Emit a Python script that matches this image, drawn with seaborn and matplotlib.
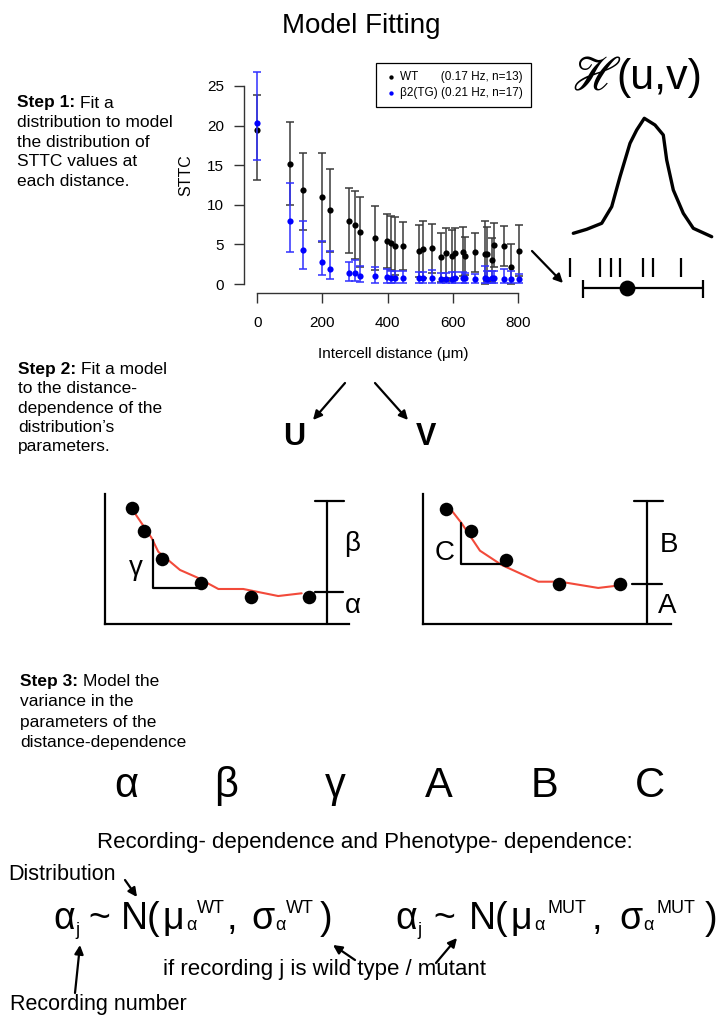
import numpy as np
import matplotlib
matplotlib.use("Agg")
import matplotlib.pyplot as plt
import seaborn as sns

sns.set_style("ticks")
plt.rcParams["font.family"] = ["Liberation Sans", "DejaVu Sans"]
for key in ("text.color", "axes.labelcolor", "xtick.color", "ytick.color", "axes.edgecolor"):
    plt.rcParams[key] = "black"

# ---------------- Step 1: STTC versus intercell distance ----------------
distance = [0, 100, 140, 200, 223, 282, 299, 315, 360, 399, 410, 424, 447, 498, 509,
            538, 565, 581, 597, 607, 632, 637, 668, 699, 706, 720, 727, 759, 780, 805]
wt_mean = [19.4, 15.2, 11.9, 11.0, 9.3, 8.0, 7.4, 6.6, 5.8, 5.4, 5.2, 4.8, 4.8, 4.2, 4.4,
           4.5, 3.4, 3.9, 3.6, 3.9, 4.1, 3.5, 4.0, 3.8, 3.8, 3.0, 4.9, 4.8, 2.2, 4.2]
wt_high = [23.9, 20.4, 16.5, 16.6, 14.5, 12.1, 11.7, 11.0, 9.8, 8.8, 8.6, 8.5, 7.8, 7.5, 8.0,
           7.6, 6.5, 7.1, 6.8, 7.1, 7.2, 5.9, 6.5, 7.9, 7.2, 5.8, 7.7, 7.3, 5.1, 7.4]
wt_low = [13.1, 10.0, 6.8, 5.3, 4.1, 3.9, 3.1, 2.2, 1.8, 2.0, 1.8, 1.1, 1.8, 0.9, 0.8,
          1.4, 0.3, 0.7, 0.4, 0.7, 1.0, 1.1, 1.5, 0.0, 0.4, 0.2, 2.1, 2.3, 0.0, 1.0]
tg_mean = [20.3, 7.9, 4.3, 2.8, 1.9, 1.4, 1.4, 1.05, 0.95, 0.85, 0.75, 0.75, 0.7, 0.7, 0.7,
           0.75, 0.65, 0.65, 0.65, 0.7, 0.7, 0.7, 0.6, 0.7, 0.65, 0.7, 0.7, 0.65, 0.65, 0.65]
tg_high = [26.8, 12.7, 8.0, 5.4, 4.2, 2.8, 3.0, 2.3, 2.1, 1.85, 1.7, 1.65, 1.65, 1.5, 1.5,
           1.75, 1.4, 1.45, 1.5, 1.5, 1.5, 1.4, 1.3, 2.3, 1.6, 1.6, 1.6, 1.9, 1.6, 1.3]
tg_low = [15.6, 4.1, 1.9, 1.1, 0.6, 0.4, 0.4, 0.2, 0.15, 0.1, 0.1, 0.1, 0.1, 0.1, 0.1,
          0.1, 0.1, 0.1, 0.1, 0.1, 0.1, 0.1, 0.1, 0.1, 0.1, 0.1, 0.1, 0.1, 0.1, 0.1]
group_labels = ["WT       (0.17 Hz, n=13)", "\u03b22(TG) (0.21 Hz, n=17)"]
x_ticks = [0, 200, 400, 600, 800]
y_ticks = [0, 5, 10, 15, 20, 25]

# Fitted distribution at one distance: curve, observed values and mean
curve_x = [13.3, 26.7, 41.7, 51.7, 60, 70, 76.7, 84.3, 95, 103.3, 106.7, 113.3, 123.3, 133.3, 151.7]
curve_y = [66.7, 70.7, 76.7, 93.3, 123.3, 156.7, 170, 181.7, 175, 165, 140, 110, 86.7, 71.7, 63.3]
obs_x = [10, 40, 50.7, 60, 83.3, 93.3, 120.7]
obs_mean = 66.7
obs_range = [23.3, 142.7]

# ---------------- Step 2: distance dependence of u and v ----------------
u_dist = [10.9, 16.1, 23.2, 39.2, 59.6, 83.4]
u_val = [89.0, 71.6, 50.3, 31.5, 20.7, 20.7]
u_fit_dist = [10.2, 19.1, 21.8, 30.7, 37.5, 46.4, 56.6, 70.9, 80.5]
u_fit_val = [90.8, 66.2, 55.7, 41.7, 36.1, 27.1, 27.1, 21.7, 23.8]

v_dist = [9.05, 19.2, 33.4, 54.8, 79.5]
v_val = [88.5, 71.6, 49.3, 30.9, 30.9]
v_fit_dist = [9.5, 15.5, 22.9, 31.7, 46.5, 55.3, 70.7, 79.5]
v_fit_val = [92.1, 77.5, 56.5, 45.5, 32.7, 32.7, 27.9, 29.9]

# ---------------- Step 3: parameters ----------------
params = ["\u03b1", "\u03b2", "\u03b3", "A", "B", "C"]

W, H = 723, 1016
fig = plt.figure(figsize=(W / 100, H / 100), dpi=100)


def px_axes(left, top, right, bottom):
    a = fig.add_axes([left / W, 1 - bottom / H, (right - left) / W, (bottom - top) / H])
    a.set_facecolor("none")
    return a


# ---- scatter with error bars ----
ax = px_axes(244, 63, 534, 292.5)
wm, wl, wh = map(np.array, (wt_mean, wt_low, wt_high))
tm, tl, th = map(np.array, (tg_mean, tg_low, tg_high))
ax.errorbar(distance, wm, yerr=[wm - wl, wh - wm], fmt="none", ecolor="#3a3a3a",
            elinewidth=1.1, capsize=2.6, capthick=1.1, zorder=2)
sns.scatterplot(x=distance, y=wt_mean, color="black", s=20, linewidth=0, ax=ax,
                zorder=3, label=group_labels[0])
ax.errorbar(distance, tm, yerr=[tm - tl, th - tm], fmt="none", ecolor="#3030ff",
            elinewidth=1.1, capsize=2.6, capthick=1.1, zorder=4)
sns.scatterplot(x=distance, y=tg_mean, color="#0000ff", s=20, linewidth=0, ax=ax,
                zorder=5, label=group_labels[1])
ax.set_xlim(-41, 850)
ax.set_ylim(-1.07, 27.9)
ax.set_xticks(x_ticks)
ax.set_yticks(y_ticks)
for side in ("top", "right"):
    ax.spines[side].set_visible(False)
ax.spines["left"].set_bounds(0, 25)
ax.spines["bottom"].set_bounds(0, 800)
for side in ("left", "bottom"):
    ax.spines[side].set_color("#333333")
    ax.spines[side].set_linewidth(1.0)
ax.tick_params(axis="y", length=7, width=1, labelsize=11, pad=7.4, color="#333333")
ax.tick_params(axis="x", length=7, width=1, labelsize=11, pad=10, color="#333333")
ax.set_xlabel("Intercell distance (\u03bcm)", fontsize=11)
ax.xaxis.set_label_coords(0.514, -0.268)
ax.xaxis.label.set_va("center")
ax.set_ylabel("STTC", fontsize=11.5)
ax.yaxis.set_label_coords(-0.2, 0.512)
ax.yaxis.label.set_va("center")
leg = ax.legend(loc="upper right", bbox_to_anchor=(531 / W, 1 - 63 / H),
                bbox_transform=fig.transFigure, fontsize=8.5, frameon=True,
                fancybox=False, edgecolor="black", framealpha=1, borderpad=0.65,
                handletextpad=0.2, handlelength=1.2, labelspacing=0.4,
                markerscale=0.7, borderaxespad=0)
leg.get_frame().set_linewidth(0.9)

# ---- fitted distribution sketch ----
bell = px_axes(560, 100, 720, 300)
bell.set_xlim(0, 160)
bell.set_ylim(0, 200)
bell.axis("off")
sns.lineplot(x=curve_x, y=curve_y, sort=False, estimator=None, color="black",
             linewidth=2.4, ax=bell)
bell.vlines(obs_x, 23.3, 41.7, color="black", linewidth=1.6)
bell.plot(obs_range, [11.7, 11.7], color="black", linewidth=1.6)
bell.vlines(obs_range, 1.7, 20, color="black", linewidth=1.6)
sns.scatterplot(x=[obs_mean], y=[11.7], color="black", s=130, linewidth=0, ax=bell,
                zorder=3)


# ---- u and v sketches ----
def schematic(box, dist, val, fit_d, fit_v, letter, bracket, tri, labels):
    a = px_axes(*box)
    a.set_xlim(0, 100)
    a.set_ylim(0, 100)
    a.set_xticks([])
    a.set_yticks([])
    for side in ("top", "right"):
        a.spines[side].set_visible(False)
    for side in ("left", "bottom"):
        a.spines[side].set_color("black")
        a.spines[side].set_linewidth(1.6)
    sns.lineplot(x=fit_d, y=fit_v, sort=False, estimator=None, color="#f24a3a",
                 linewidth=1.5, ax=a, zorder=2)
    sns.scatterplot(x=dist, y=val, color="black", s=95, linewidth=0, ax=a, zorder=3,
                    clip_on=False)
    bx, top, base, t0, t1, m0, m1 = bracket
    kw = dict(color="black", linewidth=1.6, clip_on=False)
    a.plot([bx, bx], [0, top], **kw)
    a.plot([t0, t1], [top, top], **kw)
    a.plot([m0, m1], [base, base], **kw)
    tx, ty0, ty1, tx1 = tri
    a.plot([tx, tx, tx1], [ty1, ty0, ty0], **kw)
    for (s, lx, ly) in labels:
        a.text(lx, ly, s, fontsize=20, ha="center", va="baseline", clip_on=False)
    a.set_xlabel("Intercell distance", fontsize=11.5)
    a.xaxis.label.set_va("center")
    a.set_ylabel(letter, fontsize=17)
    a.yaxis.label.set_va("center")
    return a


ax_u = schematic((105, 494, 349.3, 624.3), u_dist, u_val, u_fit_dist, u_fit_val, "u",
                 (91, 94.9, 24.8, 86, 98, 86, 97.4), (19.8, 27.6, 64.7, 38.9),
                 [("\u03b2", 101.3, 56.3), ("\u03b1", 101.5, 8.4), ("\u03b3", 12.6, 37.8)])
ax_u.xaxis.set_label_coords(0.348, -0.146)
ax_u.yaxis.set_label_coords(-0.078, 0.41)

ax_v = schematic((423.3, 494, 670.7, 624.3), v_dist, v_val, v_fit_dist, v_fit_val, "v",
                 (90.3, 94.9, 30.9, 85.2, 97.0, 84.5, 96.4), (15.2, 46.0, 77.5, 32.3),
                 [("B", 99.4, 55.7), ("A", 98.6, 8.4), ("C", 8.8, 49.3)])
ax_v.xaxis.set_label_coords(0.378, -0.146)
ax_v.yaxis.set_label_coords(-0.074, 0.432)

# ---- overlay for text and arrows ----
cv = fig.add_axes([0, 0, 1, 1])
cv.set_xlim(0, W)
cv.set_ylim(H, 0)
cv.axis("off")
cv.set_zorder(10)
renderer = fig.canvas.get_renderer()

cv.text(361, 26, "Model Fitting", fontsize=20, ha="center", va="center")


def step_block(x, y0, dy, head, lines, size=12.5):
    t = cv.text(x, y0, head, fontsize=size, fontweight="bold", va="baseline")
    w = t.get_window_extent(renderer=renderer).width
    space = 0.278 * size * 100 / 72
    cv.text(x + w + space, y0, lines[0], fontsize=size, va="baseline")
    for i, s in enumerate(lines[1:], start=1):
        cv.text(x, y0 + i * dy, s, fontsize=size, va="baseline")


step_block(17, 107.5, 19.6, "Step 1:", ["Fit a", "distribution to model",
                                       "the distribution of", "STTC values at",
                                       "each distance."])
step_block(18, 374, 19.3, "Step 2:", ["Fit a model", "to the distance-",
                                     "dependence of the", "distribution\u2019s",
                                     "parameters."])
step_block(20, 686, 20.5, "Step 3:", ["Model the", "variance in the",
                                     "parameters of the", "distance-dependence"])

# H(u,v): script H followed directly by the argument list
cv.text(571, 90, "\u210b", fontsize=35, family=["STIXGeneral", "DejaVu Sans"],
        va="baseline")
cv.text(616, 89, "(u,v)", fontsize=31, va="baseline")

arrow = dict(arrowstyle="-|>", color="black", lw=1.6, mutation_scale=13,
             shrinkA=0, shrinkB=0)
cv.annotate("", xy=(563, 283), xytext=(532, 251), arrowprops=arrow)

# U and V
cv.text(294.5, 437, "U", fontsize=22, fontweight="bold", ha="center", va="center")
cv.text(426, 437, "V", fontsize=22, fontweight="bold", ha="center", va="center")
cv.annotate("", xy=(313, 420), xytext=(345, 383), arrowprops=arrow)
cv.annotate("", xy=(408, 420), xytext=(375, 383), arrowprops=arrow)

# Parameter row
for s, x in zip(params, [126, 226, 335, 439, 545, 650]):
    cv.text(x, 797, s, fontsize=30, ha="center", va="baseline")

cv.text(97, 848, "Recording- dependence and Phenotype- dependence:", fontsize=16,
        va="baseline")

# Hierarchical model formulas, laid out piece by piece (text, size, shift, gap)
big, small = 27, 13
base = 929


def formula(x, pieces):
    for s, size, dy, gap in pieces:
        x += gap
        t = cv.text(x, base + dy, s, fontsize=size, va="baseline")
        x += t.get_window_extent(renderer=renderer).width


def pieces_for(group, wide):
    g = 3 if wide else 0
    return [("\u03b1", big, 0, 0), ("j", small, 6, 0.5), ("~", big, 0, 9 + g),
            ("N(", big, 0, 11 + g), ("\u03bc", big, 0, 2), ("\u03b1", small, 1, 1.5),
            (group, small, -16, 0.5 + g), (",", big, 0, 2 + g), ("\u03c3", big, 0, 14 + g),
            ("\u03b1", small, 1, 0.5), (group, small, -16, 0.5 + g), (")", big, 0, 6 + g)]


formula(53, pieces_for("WT", False))
formula(395, pieces_for("MUT", True))

cv.text(8, 880, "Distribution", fontsize=15.5, va="baseline")
cv.annotate("", xy=(137, 897), xytext=(125, 880), arrowprops=arrow)
cv.text(163, 975, "if recording j is wild type / mutant", fontsize=16, va="baseline")
cv.annotate("", xy=(333, 945), xytext=(355, 960), arrowprops=arrow)
cv.annotate("", xy=(457, 938), xytext=(436, 963), arrowprops=arrow)
cv.text(10, 1010, "Recording number", fontsize=15.5, va="baseline")
cv.annotate("", xy=(80, 945), xytext=(75, 993), arrowprops=arrow)

fig.savefig("out.png", dpi=100)
